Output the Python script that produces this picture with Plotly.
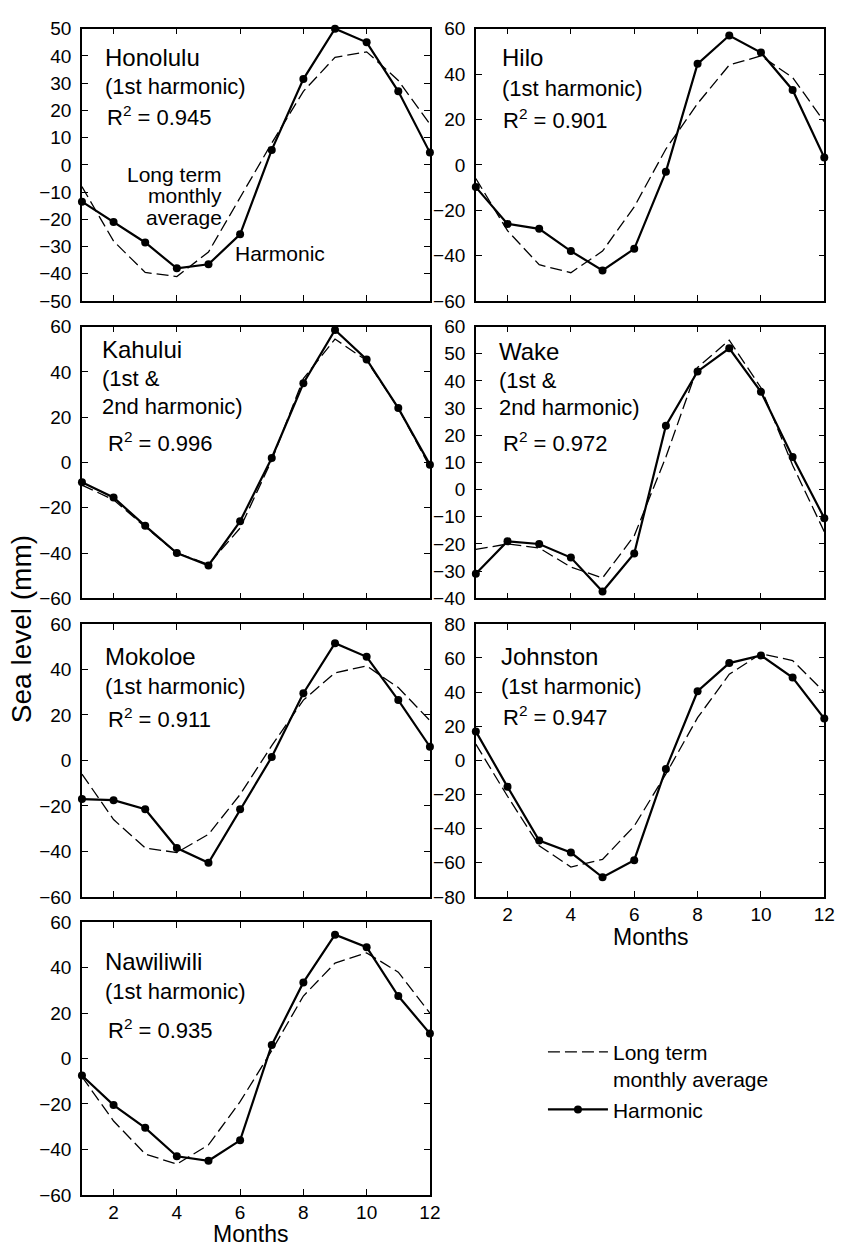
import plotly.graph_objects as go

# ---------------- data ----------------
months = list(range(1, 13))
x_tick_vals = [2, 4, 6, 8, 10, 12]

honolulu_avg = [-8, -28, -39.5, -41, -32, -12, 8, 27, 39.5, 41.5, 31, 15]
honolulu_harm = [-13.5, -21, -28.5, -38, -36.5, -25.5, 5.5, 31.5, 50, 45, 27, 4.5]
hilo_avg = [-6, -29, -44, -47.5, -38, -18.5, 7, 27, 44, 48, 38.5, 19]
hilo_harm = [-9.8, -26, -28.2, -38, -46.5, -37, -3, 44.5, 57, 49.5, 33, 3.2]
kahului_avg = [-10, -16.5, -28.5, -40, -45, -29, 1, 37, 54.5, 45, 24, -2]
kahului_harm = [-8.7, -15.5, -28, -40, -45.5, -26, 2, 35, 58.5, 45.5, 24, -1]
wake_avg = [-22, -20, -21.5, -28.5, -32.5, -17, 12, 45, 55, 37.5, 9, -15.5]
wake_harm = [-31, -19, -20, -25, -37.5, -23.5, 23.5, 43.5, 52, 36, 12, -10.5]
mokoloe_avg = [-6, -26, -38.5, -40.5, -32.5, -15, 6.5, 26.5, 38.5, 41.5, 32, 17.5]
mokoloe_harm = [-17, -17.5, -21.5, -38.5, -45, -21.5, 1.5, 29.5, 51.5, 45.5, 26.5, 6]
johnston_avg = [9.5, -21, -50, -62.5, -58, -38.5, -8, 25, 50.5, 62.5, 58.5, 40]
johnston_harm = [17, -15.5, -47, -54, -68.5, -58.5, -5, 40.5, 57, 61.5, 48.5, 24.5]
nawiliwili_avg = [-8, -27.5, -42, -46.5, -38, -19, 3.5, 27.5, 42, 46.5, 38, 20]
nawiliwili_harm = [-7.5, -20.5, -30.5, -43, -45, -36, 6, 33.5, 54.5, 49, 27.5, 11]

stations = ["Honolulu", "Hilo", "Kahului", "Wake", "Mokoloe", "Johnston", "Nawiliwili"]
subtitles = [["(1st harmonic)"], ["(1st harmonic)"], ["(1st &", "2nd harmonic)"],
             ["(1st &", "2nd harmonic)"], ["(1st harmonic)"], ["(1st harmonic)"], ["(1st harmonic)"]]
r2_values = ["0.945", "0.901", "0.996", "0.972", "0.911", "0.947", "0.935"]
avg_series = [honolulu_avg, hilo_avg, kahului_avg, wake_avg, mokoloe_avg, johnston_avg, nawiliwili_avg]
harm_series = [honolulu_harm, hilo_harm, kahului_harm, wake_harm, mokoloe_harm, johnston_harm, nawiliwili_harm]
y_ranges = [(-50, 50), (-60, 60), (-60, 60), (-40, 60), (-60, 60), (-80, 80), (-60, 60)]
y_dticks = [10, 20, 20, 10, 20, 20, 20]

# ---------------- layout geometry (pixels) ----------------
W, H = 858, 1256
col_px = [(83, 435.5), (482, 835)]
row_px = [(19, 296), (322, 598.3), (624.3, 902), (927.7, 1205)]
panel_pos = [(0, 0), (1, 0), (0, 1), (1, 1), (0, 2), (1, 2), (0, 3)]
label_panels = {5, 6}
# text offsets: (x px, title y, [sub y...], r2 x, r2 y)
text_pos = [
    (104, 48, [78], 106, 108),
    (506, 48, [80], 508, 111),
    (101, 345, [375, 403], 107, 439),
    (503, 347, [377, 404], 507, 439),
    (104, 658, [688], 107, 720),
    (505, 657, [688], 508, 718),
    (104, 968, [998], 107, 1036),
]

FONT = "Liberation Sans, Arial, Helvetica, sans-serif"

def fx(p):
    return p / W

def fy(p):
    return 1 - p / H

fig = go.Figure()
annotations = []

for i, name in enumerate(stations):
    c, r = panel_pos[i]
    xa = "x" if i == 0 else f"x{i+1}"
    ya = "y" if i == 0 else f"y{i+1}"
    fig.add_trace(go.Scatter(
        x=months, y=avg_series[i], mode="lines", xaxis=xa, yaxis=ya,
        line=dict(color="black", width=1.3, dash="12px,5px"),
        name="Long term<br>monthly average", showlegend=(i == 0), legendrank=1,
        cliponaxis=False,
    ))
    fig.add_trace(go.Scatter(
        x=months, y=harm_series[i], mode="lines+markers", xaxis=xa, yaxis=ya,
        line=dict(color="black", width=2.2),
        marker=dict(color="black", size=8),
        name="Harmonic", showlegend=(i == 0), legendrank=2,
        cliponaxis=False,
    ))
    x0, x1 = col_px[c]
    y0, y1 = row_px[r]
    axis_common = dict(showline=True, linecolor="black", linewidth=1.5, mirror="ticks",
                       ticks="inside", ticklen=6, tickwidth=1.3, tickcolor="black",
                       showgrid=False, zeroline=False,
                       tickfont=dict(family=FONT, size=19, color="black"))
    xkey = "xaxis" if i == 0 else f"xaxis{i+1}"
    ykey = "yaxis" if i == 0 else f"yaxis{i+1}"
    fig.update_layout(**{
        xkey: dict(domain=[fx(x0), fx(x1)], range=[1, 12], anchor=ya,
                   tickmode="array", tickvals=x_tick_vals,
                   showticklabels=(i in label_panels), ticklabelstandoff=0,
                   **axis_common),
        ykey: dict(domain=[fy(y1), fy(y0)], range=list(y_ranges[i]), anchor=xa,
                   tickmode="linear", tick0=y_ranges[i][0], dtick=y_dticks[i],
                   ticklabelstandoff=5,
                   **axis_common),
    })

    tx, ty, sub_ys, rx, ry = text_pos[i]
    annotations.append(dict(text=name, x=fx(tx), y=fy(ty), xref="paper", yref="paper",
                            xanchor="left", yanchor="middle", showarrow=False,
                            font=dict(family=FONT, size=24, color="black")))
    for s, sy in zip(subtitles[i], sub_ys):
        annotations.append(dict(text=s, x=fx(tx), y=fy(sy), xref="paper", yref="paper",
                                xanchor="left", yanchor="middle", showarrow=False,
                                font=dict(family=FONT, size=22, color="black")))
    annotations.append(dict(text=f"R<sup>2</sup> = {r2_values[i]}", x=fx(rx), y=fy(ry),
                            xref="paper", yref="paper", xanchor="left", yanchor="middle",
                            showarrow=False, font=dict(family=FONT, size=22, color="black")))

# in-panel labels in Honolulu
for txt, yy in [("Long term", 167), ("monthly", 189), ("average", 211)]:
    annotations.append(dict(text=txt, x=fx(227), y=fy(yy), xref="paper", yref="paper",
                            xanchor="right", yanchor="middle", showarrow=False,
                            font=dict(family=FONT, size=21, color="black")))
annotations.append(dict(text="Harmonic", x=fx(236), y=fy(248), xref="paper", yref="paper",
                        xanchor="left", yanchor="middle", showarrow=False,
                        font=dict(family=FONT, size=21, color="black")))

# axis titles
annotations.append(dict(text="Sea level (mm)", x=fx(22), y=fy(630), xref="paper", yref="paper",
                        xanchor="center", yanchor="middle", textangle=-90, showarrow=False,
                        font=dict(family=FONT, size=28, color="black")))
annotations.append(dict(text="Months", x=fx(659), y=fy(943), xref="paper", yref="paper",
                        xanchor="center", yanchor="middle", showarrow=False,
                        font=dict(family=FONT, size=23, color="black")))
annotations.append(dict(text="Months", x=fx(254), y=fy(1245), xref="paper", yref="paper",
                        xanchor="center", yanchor="middle", showarrow=False,
                        font=dict(family=FONT, size=23, color="black")))

fig.update_layout(
    width=W, height=H,
    margin=dict(l=0, r=0, t=0, b=0),
    paper_bgcolor="white", plot_bgcolor="white",
    annotations=annotations,
    showlegend=True,
    legend=dict(x=fx(550), y=fy(1039), xanchor="left", yanchor="top",
                font=dict(family=FONT, size=21, color="black"),
                bgcolor="rgba(0,0,0,0)", itemwidth=60, valign="top",
                tracegroupgap=0, itemclick=False),
)

fig.write_html("out.html")
